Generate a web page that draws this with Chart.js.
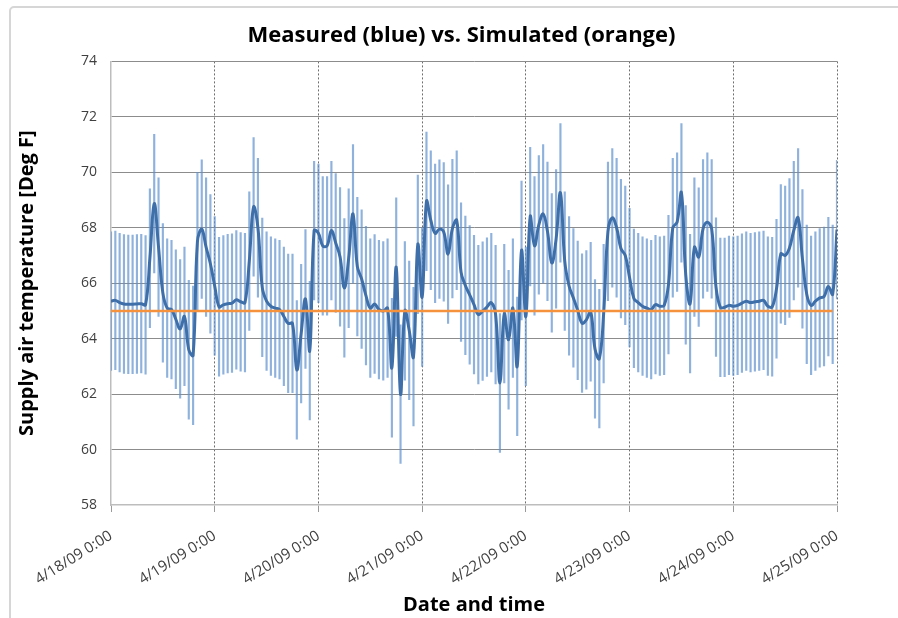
<!DOCTYPE html>
<html>
<head>
<meta charset="utf-8">
<title>Measured (blue) vs. Simulated (orange)</title>
<script src="https://cdn.jsdelivr.net/npm/chart.js@4.4.1/dist/chart.umd.min.js"></script>
<style>
    html, body { margin: 0; padding: 0; background: #fff; }
    #wrap  { position: relative; width: 898px; height: 618px; overflow: hidden; }
    #frame { position: absolute; left: 9px; top: 6px; width: 940px; height: 660px;
             border: 2px solid #d6d6d6; border-radius: 5px; }
    #chart { position: absolute; left: 0; top: 0; }
</style>
</head>
<body>
<div id="wrap">
    <div id="frame"></div>
    <canvas id="chart" width="898" height="618"></canvas>
</div>
<script>
// Supply air temperature, hourly, 4/18/09 0:00 .. 4/25/09 0:00.
// Blue = measured hourly mean (with fixed +/- error bars), orange = simulated.

const DAY_LABELS = [
    '4/18/09 0:00', '4/19/09 0:00', '4/20/09 0:00', '4/21/09 0:00',
    '4/22/09 0:00', '4/23/09 0:00', '4/24/09 0:00', '4/25/09 0:00'
];
const HOURS_PER_DAY = 24;

const Y_MIN  = 58;
const Y_MAX  = 74;
const Y_STEP = 2;

// measured hourly values [Deg F], one row per day (hour 0 .. 23), plus the final hour
const MEASURED = [
    65.35, 65.38, 65.30, 65.25, 65.24, 65.24, 65.25, 65.26, 65.22, 66.90, 68.87, 67.30,
    65.65, 65.10, 65.05, 64.70, 64.35, 64.80, 63.60, 63.40, 67.50, 67.95, 67.30, 66.70,

    65.90, 65.15, 65.22, 65.26, 65.28, 65.40, 65.33, 65.30, 66.80, 68.75, 68.00, 65.85,
    65.35, 65.17, 65.10, 65.05, 64.80, 64.55, 64.55, 62.87, 64.18, 65.43, 63.57, 67.90,

    67.80, 67.35, 67.35, 67.90, 67.45, 66.95, 65.83, 66.90, 68.50, 66.60, 66.15, 65.55,
    65.10, 65.25, 65.05, 65.00, 65.10, 62.95, 66.58, 62.00, 65.00, 64.30, 63.35, 67.40,

    65.50, 68.95, 68.27, 67.80, 67.95, 67.85, 67.05, 67.97, 68.27, 66.40, 65.92, 65.58,
    65.23, 64.87, 64.99, 65.14, 65.30, 64.87, 62.40, 64.90, 63.96, 65.10, 63.00, 67.18,

    64.80, 68.40, 67.35, 68.10, 68.50, 67.87, 66.73, 67.60, 69.26, 66.80, 65.90, 65.47,
    65.02, 64.56, 64.68, 64.97, 63.63, 63.28, 64.90, 67.87, 68.36, 68.00, 67.25, 67.00,

    66.20, 65.45, 65.30, 65.17, 65.10, 65.05, 65.23, 65.17, 65.20, 65.95, 68.00, 68.20,
    69.26, 66.30, 65.26, 67.30, 66.94, 67.96, 68.20, 67.96, 65.86, 65.13, 65.13, 65.20,

    65.17, 65.20, 65.28, 65.35, 65.30, 65.33, 65.35, 65.38, 65.17, 65.15, 65.80, 67.06,
    67.00, 67.27, 67.90, 68.36, 66.88, 65.60, 65.20, 65.35, 65.47, 65.52, 65.88, 65.60,

    67.93
];

// fixed error bar amount on the measured series [Deg F]
const ERROR_BAR = 2.5;

// simulated supply air temperature: constant set point over the run
const SIMULATED_HOURS = [0, 167];
const SIMULATED       = [65, 65];

const FONT = '"Open Sans", Lato, "DejaVu Sans", sans-serif';
const CLEAR = 'rgba(0,0,0,0)';

const measuredPts = MEASURED.map((v, h) => ({ x: h, y: v }));
const errorPts    = MEASURED.map((v, h) => ({ x: h, y: [v - ERROR_BAR, v + ERROR_BAR] }));
const simPts      = SIMULATED.map((v, i) => ({ x: SIMULATED_HOURS[i], y: v }));

new Chart(document.getElementById('chart'), {
    type: 'line',
    data: {
        datasets: [
            {
                label: 'Simulated',
                data: simPts,
                borderColor: '#f5923e',
                borderWidth: 2.5,
                pointRadius: 0,
                tension: 0,
                order: 0,
            },
            {
                label: 'Measured',
                data: measuredPts,
                borderColor: '#3f6fa8',
                borderWidth: 3,
                pointRadius: 0,
                tension: 0.4,
                order: 1,
            },
            {
                type: 'bar',
                label: 'Measured range',
                data: errorPts,
                backgroundColor: 'rgba(96, 146, 206, 0.7)',
                borderWidth: 0,
                barThickness: 1.5,
                order: 2,
            },
        ]
    },
    options: {
        responsive: false,
        animation: false,
        devicePixelRatio: 1,
        // left pad + y axis width put the plot at x=111; the blank right axis keeps
        // the title centred on the whole frame like the original
        layout: { padding: { left: 25, right: 0, top: 0, bottom: 0 } },
        plugins: {
            legend:  { display: false },
            tooltip: { enabled: false },
            title: {
                display: true,
                text: 'Measured (blue) vs. Simulated (orange)',
                color: '#000',
                font: { family: FONT, size: 22, weight: 'bold' },
                padding: { top: 23, bottom: 12 },
            },
        },
        scales: {
            x: {
                type: 'linear',
                min: 0,
                max: MEASURED.length - 1,
                offset: false,
                afterFit: (s) => { s.height = 113; },
                ticks: {
                    stepSize: HOURS_PER_DAY,
                    autoSkip: false,
                    minRotation: 32,
                    maxRotation: 32,
                    padding: 15,
                    color: '#404040',
                    font: { family: FONT, size: 15 },
                    callback: (v) => DAY_LABELS[v / HOURS_PER_DAY] ?? '',
                },
                grid: {
                    offset: false,
                    color: (c) => (c.tick && c.tick.value === 0) ? CLEAR : '#6e6e6e',
                    lineWidth: 1,
                    tickLength: 7,
                    tickColor: '#9a9a9a',
                },
                border: { color: '#bdbdbd', width: 1.5, dash: [2, 2] },
                title: {
                    display: true,
                    text: 'Date and time',
                    color: '#000',
                    font: { family: FONT, size: 20, weight: 'bold' },
                    padding: { top: 0, bottom: 1 },
                },
            },
            y: {
                min: Y_MIN,
                max: Y_MAX,
                afterFit: (s) => { s.width = 86; },
                ticks: {
                    stepSize: Y_STEP,
                    padding: 14,
                    color: '#404040',
                    font: { family: FONT, size: 14 },
                },
                grid: {
                    color: (c) => (c.tick && c.tick.value === Y_MIN) ? CLEAR : '#8c8c8c',
                    lineWidth: 1,
                    drawTicks: false,
                },
                border: { color: '#bdbdbd', width: 1.5 },
                title: {
                    display: true,
                    text: 'Supply air temperature [Deg F]',
                    color: '#000',
                    font: { family: FONT, size: 20, weight: 'bold' },
                    padding: { top: -10, bottom: 0 },
                },
            },
            yRight: {
                position: 'right',
                min: Y_MIN,
                max: Y_MAX,
                afterFit: (s) => { s.width = 61; },
                ticks: { display: false },
                grid: { drawOnChartArea: false, drawTicks: false },
                border: { display: false },
            },
        },
    },
});
</script>
</body>
</html>
